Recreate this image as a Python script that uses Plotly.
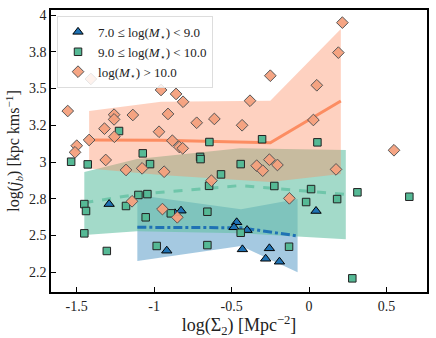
import plotly.graph_objects as go

# low mass: 7.0 <= log(M*) < 9.0  (triangles)
low_x = [-1.29, -0.918, -0.826, -0.865, -0.467, -0.484, -0.40, -0.43, -0.256, -0.28, -0.191, 0.045]
low_y = [2.714, 2.397, 2.669, 2.651, 2.59, 2.556, 2.537, 2.406, 2.413, 2.342, 2.322, 2.667]

# mid mass: 9.0 <= log(M*) < 10.0  (squares)
mid_x = [-1.535, -1.428, -1.226, -1.073, -1.026, -0.703, -0.700, -0.643, -0.441, -0.568, -0.303,
         -0.645, -0.224, 0.054, -1.45, -1.439, -1.45, -1.305, -1.181, -1.101, -1.043, -1.054,
         -0.983, -0.892, -0.656, -0.656, 0.013, 0.312, 0.647, -0.019, 0.181, -0.441, -0.129, 0.279]
mid_y = [3.002, 2.984, 3.211, 3.059, 2.986, 3.035, 3.020, 3.136, 2.986, 2.916, 3.155,
         2.838, 2.837, 3.134, 2.714, 2.667, 2.515, 2.395, 2.701, 2.776, 2.782, 2.624,
         2.429, 2.651, 2.662, 2.435, 2.816, 2.794, 2.764, 2.728, 2.748, 2.519, 2.424, 2.209]

# high mass: log(M*) > 10.0  (diamonds)
high_x = [-1.408, -1.557, -0.955, -0.858, -0.813, -1.258, -1.258, -1.137, -0.91, -0.725, -0.611,
          -1.32, -1.256, -0.968, -0.882, -0.837, -0.815, -1.419, -1.499, -1.51, -1.312, -1.181,
          -1.077, -0.935, 0.215, 0.189, -0.25, 0.05, -0.381, -0.432, 0.028, 0.548, -0.338,
          -0.256, -0.204, -0.299, 0.174, -1.142, -0.946, -0.85, -0.63, -0.127]
high_y = [3.565, 3.347, 3.49, 3.463, 3.41, 3.322, 3.29, 3.32, 3.327, 3.267, 3.293,
          3.227, 3.172, 3.206, 3.145, 3.102, 3.093, 3.15, 3.111, 3.066, 3.014, 2.946,
          2.957, 2.934, 3.948, 3.744, 3.587, 3.522, 3.417, 3.25, 3.286, 3.08, 2.975,
          3.016, 2.98, 2.941, 2.95, 2.733, 2.68, 2.624, 2.873, 2.753]

# binned medians and spread
low_bx = [-1.108, -0.439, -0.074]
low_med = [2.556, 2.553, 2.497]
low_hi = [2.776, 2.678, 2.748]
low_lo = [2.327, 2.429, 2.25]

mid_bx = [-1.45, -1.11, -0.445, 0.237]
mid_med = [2.723, 2.78, 2.84, 2.78]
mid_hi = [2.932, 3.02, 3.093, 3.082]
mid_lo = [2.503, 2.53, 2.515, 2.474]

high_bx = [-1.419, -0.955, -0.25, 0.205]
high_med = [3.15, 3.148, 3.131, 3.415]
high_hi = [3.347, 3.41, 3.417, 3.905]
high_lo = [2.956, 2.912, 2.864, 2.918]

x_ticks = [-1.5, -1, -0.5, 0, 0.5]
x_labels = ["-1.5", "-1", "-0.5", "0", "0.5"]
y_ticks = [2.25, 2.5, 2.75, 3.0, 3.25, 3.5, 3.75, 4.0]
y_labels = ["2.2", "2.5", "2.8", "3", "3.2", "3.5", "3.8", "4"]

BLUE = "#1f72b4"
GREEN = "#66c2a5"
ORANGE = "#fc8d62"
FONT = "Liberation Serif"


def band(bx, hi, lo, color):
    return go.Scatter(x=bx + bx[::-1], y=hi + lo[::-1], fill="toself", fillcolor=color,
                      line=dict(width=0), mode="lines", hoverinfo="skip", showlegend=False)


fig = go.Figure()

# shaded spreads: blue under green under orange
fig.add_trace(band(low_bx, low_hi, low_lo, "rgba(31,120,180,0.4)"))
fig.add_trace(band(mid_bx, mid_hi, mid_lo, "rgba(102,194,165,0.6)"))
fig.add_trace(band(high_bx, high_hi, high_lo, "rgba(252,141,98,0.4)"))

# median lines
fig.add_trace(go.Scatter(x=high_bx, y=high_med, mode="lines", showlegend=False,
                         line=dict(color=ORANGE, width=3)))
fig.add_trace(go.Scatter(x=mid_bx, y=mid_med, mode="lines", showlegend=False,
                         line=dict(color="rgba(102,194,165,0.85)", width=3, dash="dash")))
fig.add_trace(go.Scatter(x=low_bx, y=low_med, mode="lines", showlegend=False,
                         line=dict(color=BLUE, width=3, dash="dashdot")))

# points
fig.add_trace(go.Scatter(x=low_x, y=low_y, mode="markers",
                         name="7.0 ≤ log(<i>M</i><sub>⋆</sub>) &lt; 9.0",
                         marker=dict(symbol="triangle-up", size=9, color=BLUE,
                                     line=dict(color="black", width=1))))
fig.add_trace(go.Scatter(x=mid_x, y=mid_y, mode="markers",
                         name="9.0 ≤ log(<i>M</i><sub>⋆</sub>) &lt; 10.0",
                         marker=dict(symbol="square", size=7.5, color="#55b995",
                                     line=dict(color="#222222", width=1))))
fig.add_trace(go.Scatter(x=high_x, y=high_y, mode="markers",
                         name="log(<i>M</i><sub>⋆</sub>) &gt; 10.0",
                         marker=dict(symbol="diamond", size=9, color="rgba(244,160,125,0.95)",
                                     line=dict(color="#555555", width=1))))

axis_common = dict(showline=True, linecolor="black", linewidth=1.5, mirror=True,
                   ticks="inside", ticklen=5, tickwidth=1, tickcolor="black",
                   showgrid=False, zeroline=False, automargin=False,
                   tickfont=dict(family=FONT, size=14, color="#222"))

fig.update_xaxes(range=[-1.665, 0.761], tickvals=x_ticks, ticktext=x_labels,
                 title=dict(text="log(Σ<sub>2</sub>) [Mpc<sup>−2</sup>]",
                            font=dict(family=FONT, size=18, color="#222"), standoff=3),
                 **axis_common)
fig.update_yaxes(range=[2.116, 4.034], tickvals=y_ticks, ticktext=y_labels,
                 title=dict(text="log(<i>j<sub>b</sub></i>) [kpc kms<sup>−1</sup>]",
                            font=dict(family=FONT, size=16, color="#222"), standoff=5),
                 **axis_common)

fig.update_layout(
    width=436, height=338,
    margin=dict(l=51, r=9, t=10, b=46),
    plot_bgcolor="white", paper_bgcolor="white",
    legend=dict(x=0.016, y=0.979, xanchor="left", yanchor="top",
                bgcolor="rgba(255,255,255,0.85)", bordercolor="#dddddd", borderwidth=1,
                font=dict(family=FONT, size=13, color="#222"), tracegroupgap=0),
)

# drop the default page margin so the figure sits at the window's corner
fig.write_html("out.html", config={"displayModeBar": False},
               post_script="document.body.style.margin='0';")
